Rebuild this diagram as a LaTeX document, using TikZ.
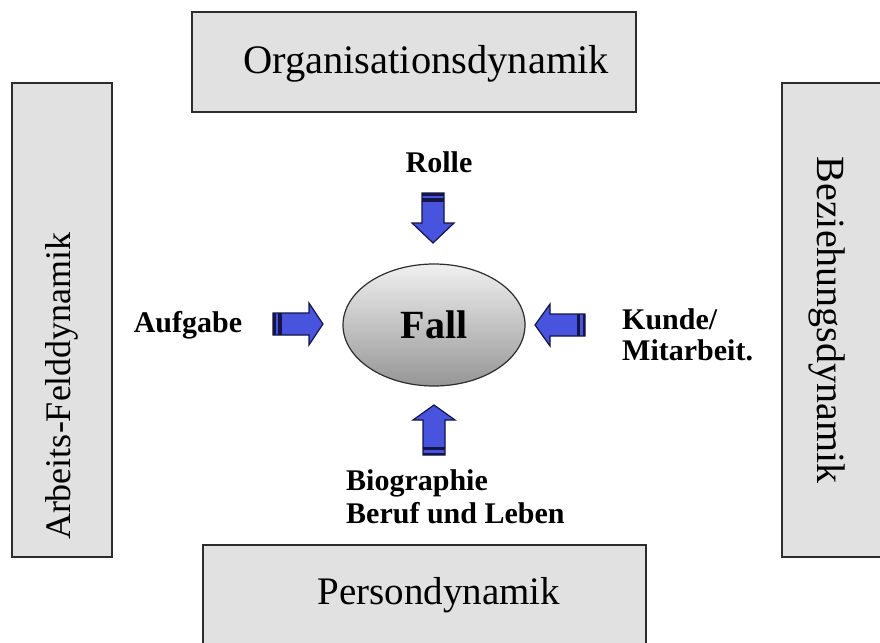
\documentclass[tikz,border=0pt]{standalone}
\usepackage{fontspec}
\setmainfont{Liberation Serif}
\usetikzlibrary{shapes.geometric}
\definecolor{boxfill}{RGB}{225,225,225}
\definecolor{boxline}{RGB}{45,45,45}
\definecolor{arrblue}{RGB}{72,84,222}
\definecolor{arredge}{RGB}{20,20,70}
\definecolor{elltop}{RGB}{240,240,240}
\definecolor{ellbot}{RGB}{150,150,150}
\newcommand{\blockarr}[4]{%
  \begin{scope}[shift={(#1,#2)},rotate=#3]
    \filldraw[fill=arrblue,draw=arredge,line width=1.2pt,line join=miter]
      (0,-11) -- (50-#4,-11) -- (50-#4,-21) -- (50,0) -- (50-#4,21) -- (50-#4,11) -- (0,11) -- cycle;
    \fill[arredge] (0,-11) rectangle (2.5,11);
    \fill[arredge] (5,-11) rectangle (8.5,11);
  \end{scope}}
\begin{document}
\begin{tikzpicture}[x=1pt,y=-1pt,
  dynbox/.style={draw=boxline,fill=boxfill,line width=1.5pt,inner sep=0pt},
  boxtext/.style={font=\fontsize{39}{44}\selectfont,inner sep=0pt},
  lbl/.style={font=\bfseries\fontsize{30}{32}\selectfont,inner sep=0pt,align=left}]
\useasboundingbox (0,0) rectangle (880,642);
% boxes
\node[dynbox,minimum width=444pt,minimum height=100pt] (top) at (414,62) {};
\node[dynbox,minimum width=100pt,minimum height=474pt] (left) at (62,320) {};
\node[dynbox,minimum width=100pt,minimum height=474pt] (right) at (832,320) {};
\node[dynbox,minimum width=443pt,minimum height=100pt] (bottom) at (424.5,595) {};
\node[boxtext,font=\fontsize{40.5}{44}\selectfont] (toptext) at (426,64) {Organisationsdynamik};
\node[boxtext,font=\fontsize{36}{40}\selectfont,rotate=90] (lefttext) at (62,386) {Arbeits-Felddynamik};
\node[boxtext,font=\fontsize{40}{44}\selectfont,rotate=-90] (righttext) at (827,320) {Beziehungsdynamik};
\node[boxtext] (bottomtext) at (439,595) {Persondynamik};
% centre
\node[ellipse,draw=boxline,line width=1.2pt,top color=elltop,bottom color=ellbot,
      minimum width=182pt,minimum height=122pt,font=\bfseries\fontsize{40}{42}\selectfont] (fall) at (434,325) {Fall};
% labels
\node[lbl] (rolle) at (439,162) {Rolle};
\node[lbl] (aufgabe) at (188,325) {Aufgabe};
\node[lbl,font=\bfseries\fontsize{30}{31}\selectfont,anchor=west] (kunde) at (622,335) {Kunde/\\Mitarbeit.};
\node[lbl,font=\bfseries\fontsize{30}{33}\selectfont,anchor=west] (bio) at (346,497) {Biographie\\Beruf und Leben};
% block arrows
\blockarr{273}{324}{0}{14}
\blockarr{433}{193}{-90}{20}
\blockarr{585}{325}{180}{15}
\blockarr{434}{455}{90}{15}
\end{tikzpicture}
\end{document}
